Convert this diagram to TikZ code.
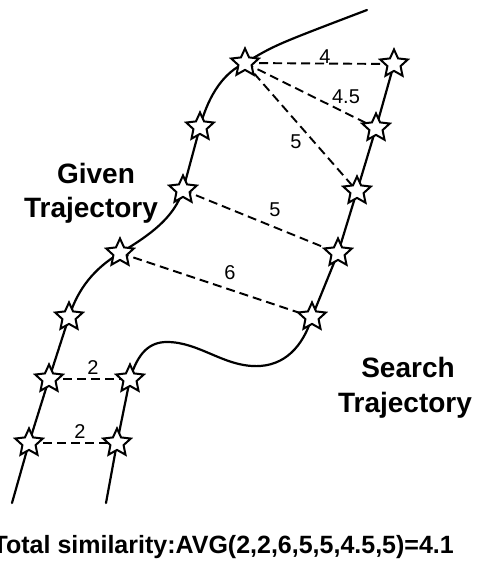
\documentclass[tikz,border=0pt]{standalone}
\usepackage{fontspec}
\setmainfont{Liberation Sans}
\usetikzlibrary{shapes.geometric}
\tikzset{
  traj/.style={line width=2.2pt, line cap=round},
  starnode/.style={star, star points=5, star point ratio=2.1, draw, line width=2pt, fill=white, inner sep=0pt, minimum size=29pt},
  simline/.style={dashed, dash pattern=on 9pt off 5pt, line width=1.9pt},
  numlabel/.style={font=\fontsize{20}{22}\selectfont, inner sep=0pt},
  biglabel/.style={font=\fontsize{28}{32}\selectfont\bfseries, inner sep=0pt, anchor=base},
}
\begin{document}
\begin{tikzpicture}[x=1pt, y=-1pt]
\useasboundingbox (0,0) rectangle (481,561);
% given trajectory points
\coordinate (g1) at (245,63);
\coordinate (g2) at (200,127);
\coordinate (g3) at (183,190);
\coordinate (g4) at (120,253);
\coordinate (g5) at (69,317);
\coordinate (g6) at (49,379);
\coordinate (g7) at (29,443);
\coordinate (gstart) at (12,503);
\coordinate (gend) at (367,10);
% search trajectory points
\coordinate (s1) at (394,64);
\coordinate (s2) at (376,128);
\coordinate (s3) at (357,191);
\coordinate (s4) at (338,253);
\coordinate (s5) at (312,317);
\coordinate (s6) at (130,379);
\coordinate (s7) at (117,443);
\coordinate (sstart) at (106,503);
% trajectories
\draw[traj] (gstart) -- (g7) -- (g6) -- (g5)
  .. controls (78,288) and (95,268) .. (g4)
  .. controls (150,235) and (174,218) .. (g3)
  -- (g2)
  .. controls (209,93) and (225,72) .. (g1)
  .. controls (275,45) .. (gend);
\draw[traj] (sstart) -- (s7) -- (s6)
  .. controls (138,352) and (150,342) .. (167,342)
  .. controls (200,342) and (225,368) .. (260,366)
  .. controls (290,364) and (305,340) .. (s5)
  -- (s4) -- (s3) -- (s2) -- (s1);
% similarity links
\draw[simline] (g1) -- (s1);
\draw[simline] (g1) -- (s2);
\draw[simline] (g1) -- (s3);
\draw[simline] (g3) -- (s4);
\draw[simline] (g4) -- (s5);
\draw[simline] (g6) -- (s6);
\draw[simline] (g7) -- (s7);
% stars
\foreach \p in {g1,g2,g3,g4,g5,g6,g7,s1,s2,s3,s4,s5,s6,s7}
  \node[starnode] (star\p) at (\p) {};
% numbers
\node[numlabel] (l1) at (325,57) {4};
\node[numlabel] (l2) at (346,97) {4.5};
\node[numlabel] (l3) at (296,142) {5};
\node[numlabel] (l4) at (275,210) {5};
\node[numlabel] (l5) at (230,273) {6};
\node[numlabel] (l6) at (93,368) {2};
\node[numlabel] (l7) at (80,432) {2};
% labels
\node[biglabel] (given1) at (96,183) {Given};
\node[biglabel] (given2) at (91,217) {Trajectory};
\node[biglabel] (search1) at (408,377) {Search};
\node[biglabel] (search2) at (405,412) {Trajectory};
\node[font=\fontsize{25}{28}\selectfont\bfseries, inner sep=0pt, anchor=base east] (total) at (454,553) {Total similarity:AVG(2,2,6,5,5,4.5,5)=4.1};
\end{tikzpicture}
\end{document}
